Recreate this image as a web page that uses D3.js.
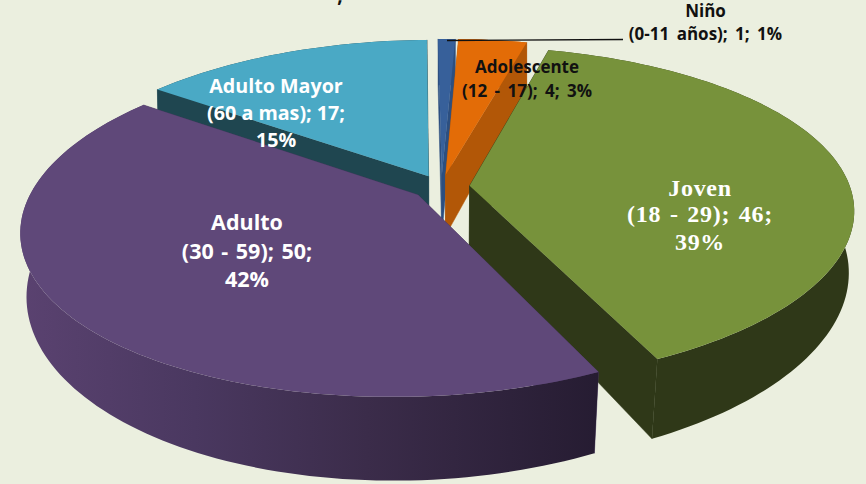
<!DOCTYPE html>
<html><head><meta charset="utf-8">
<script src="https://cdnjs.cloudflare.com/ajax/libs/d3/7.8.5/d3.min.js"></script>
<style>html,body{margin:0;padding:0;background:#ebefdf;overflow:hidden}svg{display:block}</style>
</head><body><svg id="c" width="866" height="484"></svg>
<script>
// Data
const categories = ["Niño","Adolescente","Joven","Adulto","Adulto Mayor"];
const ranges = ["(0-11 años)","(12 - 17)","(18 - 29)","(30 - 59)","(60 a mas)"];
const values = [1,4,46,50,17];
const percents = ["1%","3%","39%","42%","15%"];
const topColors = ["#37609a","#e36c07","#77923b","#5f4879","#4aa9c5"];
const sideColors = ["#2c4f80","#b25707","#2f3818","#4a3860","#1f4650"];
const drawOrder = [4,0,1,2,3];

// Projection parameters for the tilted pie
const cx=441, cy=187, a=383, k=0.174, m=0.01, s=0.427, q=0.012, explode=0.075;
const svg=d3.select("#c");
const project=(u,v)=>{
  const w=1-k*v+m*u;
  const X=cx+a*u/w-4*v*v-v;
  return [X, cy+a*s*v/w-q*(X-cx)];
};
const depthOf=d3.scaleLinear().domain([45,361]).range([47,80]);
const shrink=d3.scaleLinear().domain([45,361]).range([1,0.975]);
const lower=p=>[cx+(p[0]-cx)*shrink(p[1]), p[1]+depthOf(p[1])];

const arcs=d3.pie().sort(null).value(d=>d).startAngle(0).endAngle(2*Math.PI)(values);
const line=d3.line();

const defs=svg.append("defs");
const grad=defs.append("linearGradient").attr("id","adultoSide").attr("gradientUnits","userSpaceOnUse")
  .attr("x1",22).attr("x2",597).attr("y1",0).attr("y2",0);
[[0,"#5a4270"],[0.3,"#4a3860"],[0.6,"#3b2c4a"],[1,"#261c32"]].forEach(d=>grad.append("stop").attr("offset",d[0]).attr("stop-color",d[1]));

function slicePts(d){
  const mid=(d.startAngle+d.endAngle)/2, eu=explode*Math.sin(mid), ev=-explode*Math.cos(mid);
  const steps=Math.max(4,Math.ceil((d.endAngle-d.startAngle)*40));
  const rim=d3.range(steps+1).map(i=>{
    const t=d.startAngle+(d.endAngle-d.startAngle)*i/steps;
    return project(eu+Math.sin(t),ev-Math.cos(t));
  });
  return {apex:project(eu,ev),rim};
}
drawOrder.forEach(i=>{
  const {apex,rim}=slicePts(arcs[i]);
  const g2=svg.append("g").attr("class","slice");
  const side=sideColors[i];
  const first=rim[0], last=rim[rim.length-1];
  g2.append("path").attr("d",line([apex,first,lower(first),lower(apex)])+"Z").attr("fill",side).attr("stroke",side).attr("stroke-width",.5);
  g2.append("path").attr("d",line([apex,last,lower(last),lower(apex)])+"Z").attr("fill",side).attr("stroke",side).attr("stroke-width",.5);
  const rimFill=categories[i]==="Adulto"?"url(#adultoSide)":side;
  g2.append("path").attr("d",line(rim.concat(rim.map(lower).reverse()))+"Z").attr("fill",rimFill);
  g2.append("path").attr("d",line([apex,...rim])+"Z").attr("fill",topColors[i]);
});

// Leader line for Niño
svg.append("path").attr("d",line([[447,40.5],[623,39.5]])).attr("stroke","#111").attr("stroke-width",1.3).attr("fill","none");

// Labels
const sans="'Open Sans',sans-serif", serif="'Liberation Serif',serif";
const labelLayout=[
  {i:0,x:705.5,ys:[17,40],fs:17,ls:0,ws:3,fill:"#111",font:sans,split:1},
  {i:1,x:527,ys:[73,97],fs:17,ls:0,ws:3,fill:"#111",font:sans,split:1},
  {i:2,x:700,ys:[196,222,250],fs:24,ls:0.7,ws:2,fill:"#fff",font:serif,split:2},
  {i:3,x:247,ys:[230,259,287],fs:21.5,ls:0,ws:2,fill:"#fff",font:sans,split:2},
  {i:4,x:276,ys:[93,120,147],fs:19.7,ls:0,ws:0,fill:"#fff",font:sans,split:2}
];
labelLayout.forEach(l=>{
  const n=categories[l.i], r=ranges[l.i], v=values[l.i], p=percents[l.i];
  const lines=l.split===1?[n,`${r}; ${v}; ${p}`]:[n,`${r}; ${v};`,p];
  lines.forEach((t,j)=>svg.append("text").attr("x",l.x).attr("y",l.ys[j]).attr("text-anchor","middle")
    .attr("font-family",l.font).attr("font-weight",700).attr("font-size",l.fs).attr("letter-spacing",l.ls).attr("word-spacing",l.ws).attr("fill",l.fill).text(t));
});
// Residue of the cropped title at the top edge
svg.append("text").attr("x",340).attr("y",2).attr("text-anchor","middle").attr("font-family",sans)
  .attr("font-weight",700).attr("font-size",19).attr("fill","#111").text(",");
</script></body></html>
